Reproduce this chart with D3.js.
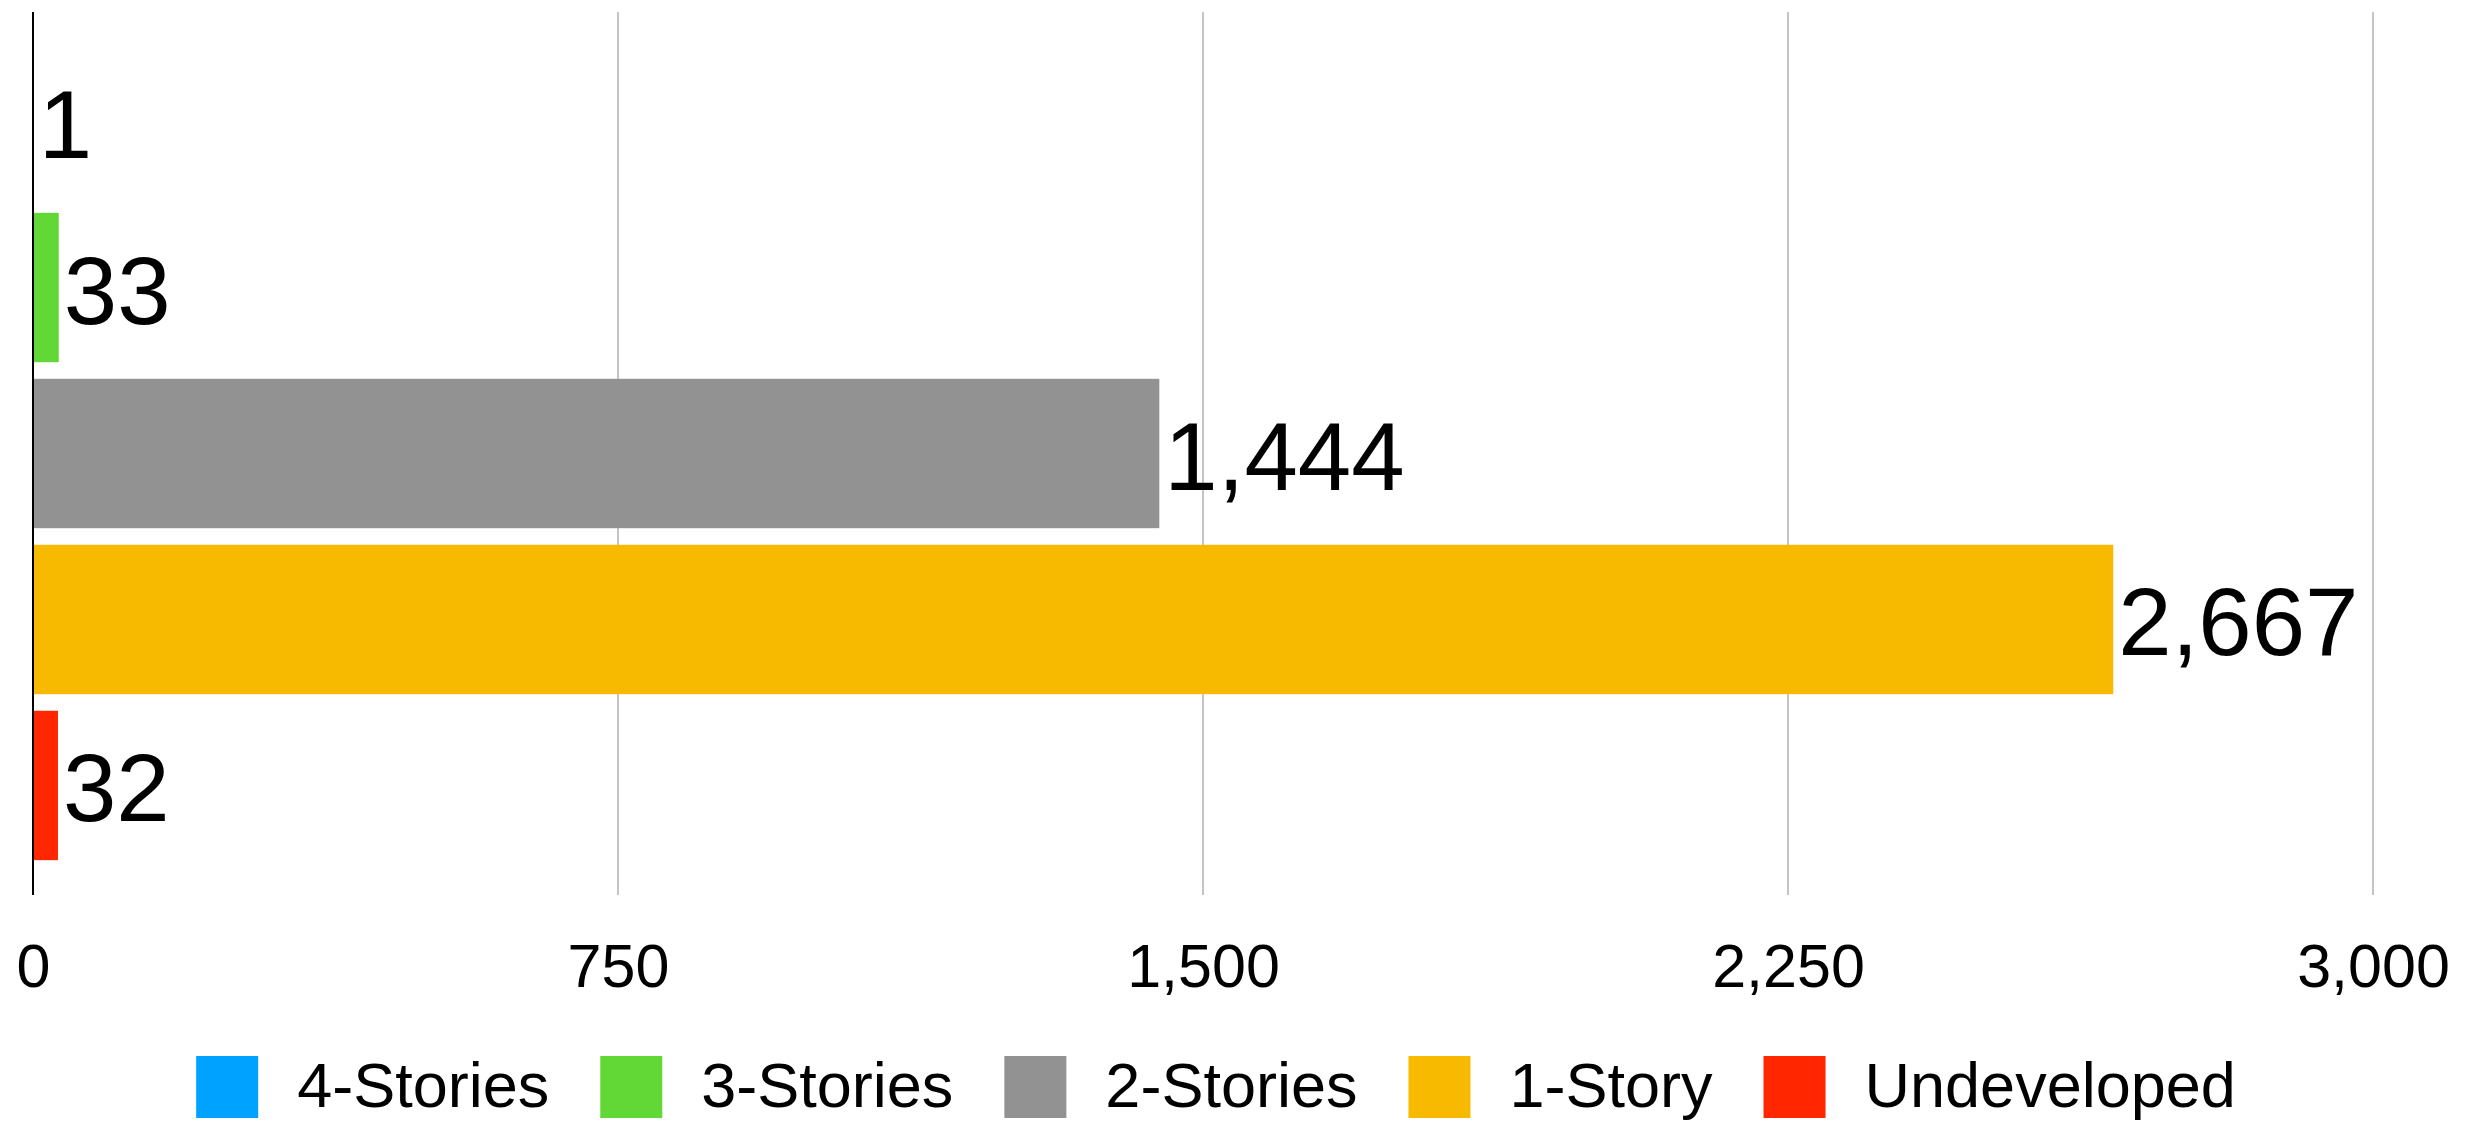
<!DOCTYPE html>
<html>
<head>
<meta charset="utf-8">
<script src="https://cdn.jsdelivr.net/npm/d3@7"></script>
<style>
  html, body { margin: 0; padding: 0; background: #fff; }
  svg { display: block; font-family: "Liberation Sans", Arial, Helvetica, sans-serif; }
</style>
</head>
<body>
<svg id="chart" width="2487" height="1121"></svg>
<script>
// Data
const categories = ['4-Stories', '3-Stories', '2-Stories', '1-Story', 'Undeveloped'];
const values = [1, 33, 1444, 2667, 32];
const colors = ['#00A2FF', '#61D836', '#929292', '#F8BA00', '#FF2600'];
const xTicks = [0, 750, 1500, 2250, 3000];

const svg = d3.select('#chart');
const plot = { left: 33, right: 2373, top: 12, bottom: 895 };

const x = d3.scaleLinear()
    .domain([0, 3000])
    .range([plot.left, plot.right]);

const y = d3.scaleBand()
    .domain(categories)
    .range([plot.top, plot.bottom])
    .paddingInner(0.1)
    .paddingOuter(0.21);

// Grid lines
svg.append('g')
    .selectAll('line')
    .data(xTicks.filter(d => d > 0))
    .join('line')
    .attr('x1', d => x(d)).attr('x2', d => x(d))
    .attr('y1', plot.top).attr('y2', plot.bottom)
    .attr('stroke', '#c4c4c4')
    .attr('stroke-width', 2);

// Bars
const rows = categories.map((c, i) => ({ cat: c, value: values[i], color: colors[i] }));

svg.append('g')
    .selectAll('rect')
    .data(rows)
    .join('rect')
    .attr('x', x(0))
    .attr('y', d => y(d.cat))
    .attr('width', d => x(d.value) - x(0))
    .attr('height', y.bandwidth())
    .attr('fill', d => d.color);

// Value labels
const fmt = d3.format(',');
svg.append('g')
    .selectAll('text')
    .data(rows)
    .join('text')
    .attr('x', d => x(d.value) + 5)
    .attr('y', d => y(d.cat) + y.bandwidth() / 2 + 36)
    .attr('font-size', 96)
    .attr('fill', '#000')
    .text(d => fmt(d.value));

// Zero axis line
svg.append('line')
    .attr('x1', x(0)).attr('x2', x(0))
    .attr('y1', plot.top).attr('y2', plot.bottom)
    .attr('stroke', '#000')
    .attr('stroke-width', 2);

// X axis tick labels
const xAxis = d3.axisBottom(x)
    .tickValues(xTicks)
    .tickFormat(fmt)
    .tickSize(0)
    .tickPadding(0);

const gx = svg.append('g')
    .attr('transform', `translate(0, ${plot.bottom})`)
    .call(xAxis);
gx.select('.domain').remove();
gx.selectAll('text')
    .attr('font-size', 61)
    .attr('font-family', null)
    .attr('fill', '#000')
    .attr('dy', null)
    .attr('y', 92);

// Legend
const legend = svg.append('g');
const swatch = 62, textGap = 39, itemGap = 51, fontLegend = 63;
const items = legend.selectAll('g')
    .data(rows)
    .join('g');
items.append('rect')
    .attr('width', swatch)
    .attr('height', swatch)
    .attr('y', 1056)
    .attr('fill', d => d.color);
items.append('text')
    .attr('x', swatch + textGap)
    .attr('y', 1107)
    .attr('font-size', fontLegend)
    .attr('fill', '#000')
    .text(d => d.cat);

let offset = 0;
const widths = [];
items.each(function () {
    const w = swatch + textGap + d3.select(this).select('text').node().getComputedTextLength();
    widths.push(w);
});
const total = d3.sum(widths) + itemGap * (widths.length - 1);
const start = 1216 - total / 2;
items.attr('transform', (d, i) => {
    const tx = start + offset;
    offset += widths[i] + itemGap;
    return `translate(${tx}, 0)`;
});
</script>
</body>
</html>
